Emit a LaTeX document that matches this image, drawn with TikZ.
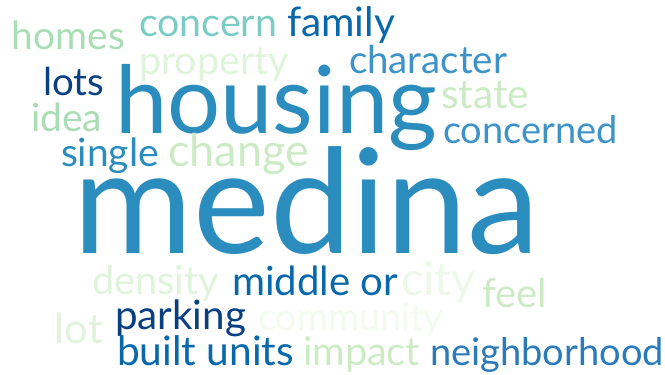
\documentclass[tikz,border=0pt]{standalone}
\usepackage{fontspec}
\usepackage{graphicx}
\setmainfont{Lato}
\definecolor{cA}{HTML}{A8DDB5}
\definecolor{cB}{HTML}{7BCCC4}
\definecolor{cC}{HTML}{0868AC}
\definecolor{cD}{HTML}{E0F3DB}
\definecolor{cE}{HTML}{3D93C8}
\definecolor{cF}{HTML}{084081}
\definecolor{cG}{HTML}{2B8CBE}
\definecolor{cH}{HTML}{CCEBC5}
\definecolor{cI}{HTML}{EEF8EA}
\definecolor{cJ}{HTML}{F3FAEF}
\definecolor{cK}{HTML}{2B7BBA}
\newcommand\cloudword[6]{\node[wordnode, text=#5] (#1) at (#2,#3) {\resizebox{#4pt}{!}{#6}};}
\begin{document}
\begin{tikzpicture}[x=1pt,y=-1pt, wordnode/.style={anchor=base west, inner sep=0pt, outer sep=0pt}]
\useasboundingbox (0,0) rectangle (665,375);
\cloudword{homes}{12}{49}{113}{cA}{homes}
\cloudword{concern}{139}{36}{138}{cB}{concern}
\cloudword{family}{287}{36}{108}{cC}{family}
\cloudword{property}{139}{74}{150}{cD}{property}
\cloudword{character}{349}{73}{158}{cE}{character}
\cloudword{lots}{43}{95}{61}{cF}{lots}
\cloudword{housing}{115}{133}{322}{cG}{housing}
\cloudword{state}{441}{108}{88}{cH}{state}
\cloudword{idea}{31}{131}{71}{cA}{idea}
\cloudword{concerned}{443}{143}{175}{cE}{concerned}
\cloudword{single}{61}{166}{98}{cG}{single}
\cloudword{change}{168}{166}{141}{cH}{change}
\cloudword{medina}{74}{253}{465}{cG}{medina}
\cloudword{density}{92}{294}{127}{cD}{density}
\cloudword{middleor}{232}{295}{166}{cC}{middle or}
\cloudword{city}{401}{295}{74}{cI}{city}
\cloudword{feel}{482}{307}{65}{cH}{feel}
\cloudword{lot}{55}{343}{48}{cD}{lot}
\cloudword{parking}{115}{329}{131}{cF}{parking}
\cloudword{community}{258}{330}{185}{cJ}{community}
\cloudword{builtunits}{117}{365}{177}{cC}{built units}
\cloudword{impact}{303}{365}{117}{cH}{impact}
\cloudword{neighborhood}{430}{365}{234}{cK}{neighborhood}
\end{tikzpicture}
\end{document}
